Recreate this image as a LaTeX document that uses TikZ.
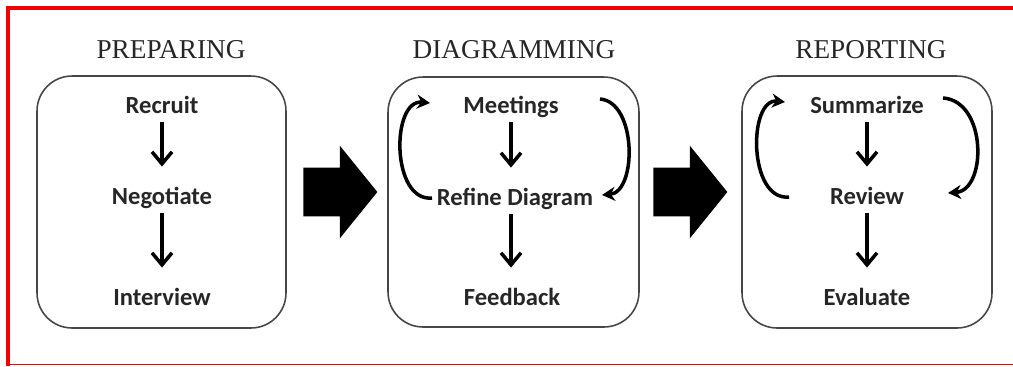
\documentclass[tikz,border=0pt]{standalone}
\usepackage{fontspec}
\setmainfont{Liberation Serif}
\newfontfamily\stepfont{Carlito}
\usepackage{tikz}
\usetikzlibrary{arrows.meta,shapes.arrows,positioning}
\usepackage{xcolor}
\definecolor{frame}{RGB}{240,0,0}
\definecolor{boxline}{RGB}{70,70,70}
\tikzstyle{stage} = [rectangle, rounded corners=0.7cm, draw=boxline, line width=0.9pt, fill=white]
\tikzstyle{title} = [anchor=base, font=\fontsize{15.5}{18}\selectfont, text=black!85]
\tikzstyle{task} = [anchor=base, font=\stepfont\bfseries\fontsize{14}{16}\selectfont, text height=10pt, text depth=3pt, inner sep=2pt, text=black!85]
\tikzstyle{arrow} = [line width=2pt, -{Straight Barb[length=2.4mm,width=4mm]}, shorten >=0.32cm]
\tikzstyle{loop} = [line width=2pt, -{Stealth[length=2.6mm,width=2.8mm]}]
\tikzstyle{next} = [single arrow, fill=black, inner xsep=0pt, inner ysep=0.48cm, minimum height=1.48cm, single arrow head extend=0.44cm, single arrow tip angle=102, anchor=tail]

\begin{document}
\begin{tikzpicture}[x=0.02cm, y=-0.02cm]
\useasboundingbox (0,0) rectangle (1013,366);
% red frame
\draw[frame, line width=0.08cm] (6,8) -- (1013,8);
\draw[frame, line width=0.08cm] (8,6) -- (8,366);
\draw[frame, line width=0.6pt] (6,364.5) -- (1013,364.5);

% Preparing
\node[title] (prep) at (171,58) {PREPARING};
\node[stage, minimum width=4.98cm, minimum height=5.04cm] (prep_box) at (161.5,202) {};
\node[task] (recruit) at (162,113) {Recruit};
\node[task] (negotiate) at (162,204) {Negotiate};
\node[task] (interview) at (162,305) {Interview};

\draw[arrow] (recruit) -- (negotiate);
\draw[arrow] (negotiate) -- (interview);

% Diagramming
\node[title] (diag) at (514,58) {DIAGRAMMING};
\node[stage, minimum width=5.02cm, minimum height=5.0cm] (diag_box) at (513.5,202) {};
\node[task] (meetings) at (511,113) {Meetings};
\node[task] (refine) at (515,205) {Refine Diagram};
\node[task] (feedback) at (512,305) {Feedback};

\draw[arrow] (meetings) -- (meetings |- refine.north);
\draw[arrow] (meetings |- refine.south) -- (meetings |- feedback.north);

\coordinate (diag_l1) at (432,198);
\coordinate (diag_l2) at (430,103);
\coordinate (diag_r1) at (600,99);
\coordinate (diag_r2) at (602,195);
\draw[loop] (diag_l1) .. controls (391,202) and (391,99) .. (diag_l2);
\draw[loop] (diag_r1) .. controls (637,102) and (637,192) .. (diag_r2);

% Reporting
\node[title] (rep) at (871,58) {REPORTING};
\node[stage, minimum width=5.0cm, minimum height=5.04cm] (rep_box) at (867,202) {};
\node[task] (summarize) at (867,113) {Summarize};
\node[task] (review) at (867,204) {Review};
\node[task] (evaluate) at (867,305) {Evaluate};

\draw[arrow] (summarize) -- (review);
\draw[arrow] (review) -- (evaluate);

\coordinate (rep_l1) at (789,197);
\coordinate (rep_l2) at (785,102);
\coordinate (rep_r1) at (943,98);
\coordinate (rep_r2) at (948,193);
\draw[loop] (rep_l1) .. controls (748,201) and (748,98) .. (rep_l2);
\draw[loop] (rep_r1) .. controls (987,101) and (987,190) .. (rep_r2);

% between stages
\node[next] (next1) at (303,192) {};
\node[next] (next2) at (653,192) {};
\end{tikzpicture}
\end{document}
